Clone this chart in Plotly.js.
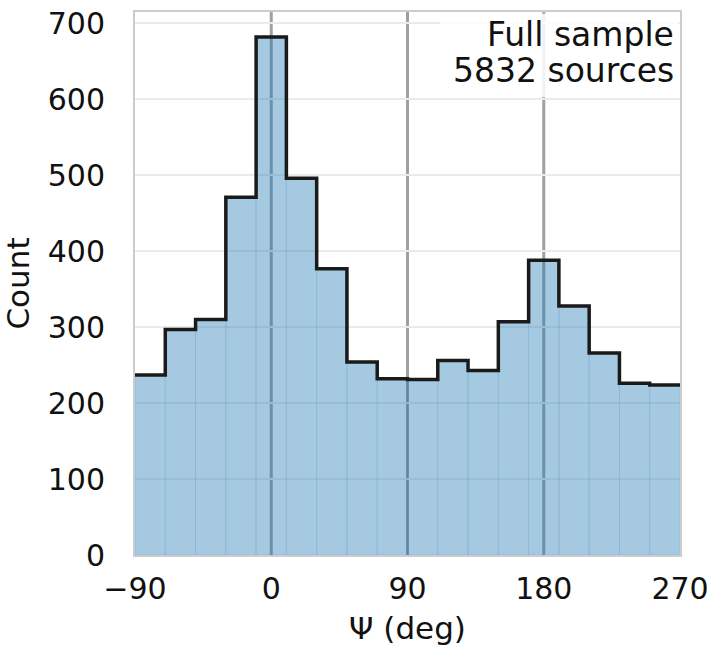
<!DOCTYPE html>
<html>
<head>
<meta charset="utf-8">
<script src="https://cdn.plot.ly/plotly-3.0.1.min.js"></script>
<style>html,body{margin:0;padding:0;background:#fff;}#chart{width:718px;height:658px;}</style>
</head>
<body>
<div id="chart"></div>
<script>
// Histogram of position angle Psi (deg), 20-degree bins from -90 to 270
const binStart = -90;
const binWidth = 20;
const counts = [237, 297, 310, 471, 682, 496, 377, 254, 232, 231, 256, 243, 307, 388, 328, 266, 226, 224];
const xTicks = [-90, 0, 90, 180, 270];
const yTicks = [0, 100, 200, 300, 400, 500, 600, 700];
const markerLines = [0, 90, 180];
const annotationLines = ["Full sample", "5832 sources"];

const centers = counts.map((_, i) => binStart + binWidth * (i + 0.5));
const edges = counts.map((_, i) => binStart + binWidth * i).concat([binStart + binWidth * counts.length]);
const stepY = counts.concat([counts[counts.length - 1]]);

const font = "'DejaVu Sans', sans-serif";

const traces = [
  {
    type: 'bar', x: centers, y: counts, width: binWidth,
    marker: { color: 'rgba(31,119,180,0.4)', line: { color: 'rgba(31,119,180,0.12)', width: 1 } },
    hoverinfo: 'skip', showlegend: false
  },
  {
    type: 'scatter', mode: 'lines', x: edges, y: stepY,
    line: { shape: 'hv', color: '#1a1a1a', width: 3.5 },
    hoverinfo: 'skip', showlegend: false
  }
];

const shapes = markerLines.map(v => ({
  type: 'line', xref: 'x', yref: 'paper', x0: v, x1: v, y0: 0, y1: 1,
  line: { color: '#a0a0a0', width: 3 }, layer: 'between'
}));
shapes.push({
  type: 'rect', xref: 'paper', yref: 'paper', x0: 0.56, x1: 0.997, y0: 0.843, y1: 0.997,
  fillcolor: 'rgba(255,255,255,0.85)', line: { width: 0 }, layer: 'above'
});

const layout = {
  width: 718, height: 658,
  margin: { l: 135, r: 38, t: 12, b: 103 },
  paper_bgcolor: '#ffffff', plot_bgcolor: '#ffffff',
  font: { family: font, size: 30, color: '#111111' },
  bargap: 0,
  xaxis: {
    range: [-90, 270], tickvals: xTicks, ticktext: xTicks.map(v => v < 0 ? '\u2212' + Math.abs(v) : String(v)),
    showgrid: false, zeroline: false,
    showline: true, linecolor: '#cccccc', linewidth: 2, mirror: true,
    ticks: '', ticklabelstandoff: 6,
    tickfont: { family: font, size: 30, color: '#111111' },
    title: { text: '\u03a8 (deg)', font: { family: font, size: 31, color: '#111111' }, standoff: 12 }
  },
  yaxis: {
    range: [0, 715], tickvals: yTicks,
    showgrid: true, gridcolor: '#ebebeb', gridwidth: 2, zeroline: false,
    showline: true, linecolor: '#cccccc', linewidth: 2, mirror: true,
    ticks: '', ticklabelstandoff: 22,
    tickfont: { family: font, size: 30, color: '#111111' },
    title: { text: 'Count', font: { family: font, size: 31, color: '#111111' }, standoff: 20 }
  },
  shapes: shapes,
  annotations: annotationLines.map((t, i) => ({
    xref: 'paper', yref: 'paper', x: 0.993, y: i === 0 ? 0.958 : 0.892,
    xanchor: 'right', yanchor: 'middle', align: 'right', showarrow: false,
    text: t,
    font: { family: font, size: 33, color: '#111111' }
  }))
};

Plotly.newPlot('chart', traces, layout, { displayModeBar: false, staticPlot: true });
</script>
</body>
</html>
